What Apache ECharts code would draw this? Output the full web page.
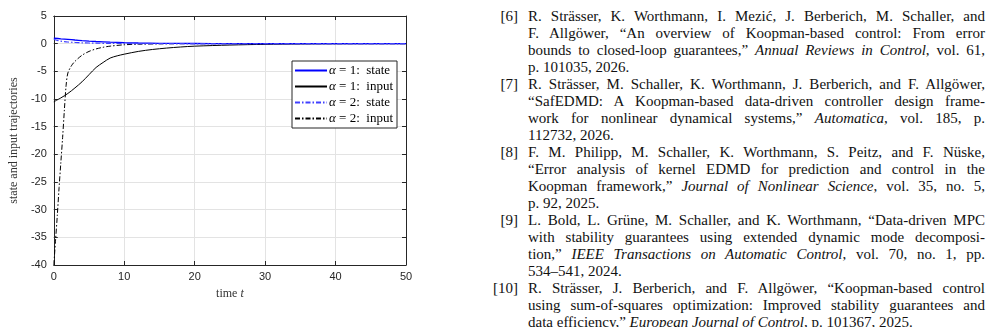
<!DOCTYPE html>
<html>
<head>
<meta charset="utf-8">
<script src="https://cdn.jsdelivr.net/npm/echarts@6/dist/echarts.min.js"></script>
<style>
  html, body { margin: 0; padding: 0; background: #fff; }
  #wrap { position: relative; width: 988px; height: 327px; overflow: hidden; }
  #chart { position: absolute; left: 0; top: 0; width: 440px; height: 327px; }
  #refs { position: absolute; left: 490px; top: 7.5px; width: 495px;
    font-family: "Liberation Serif", "Times New Roman", serif; font-size: 15px; color: #111; }
  .ref { position: relative; }
  .num { position: absolute; left: 0; top: 0; width: 28px; text-align: right; line-height: 17px; }
  .ln { margin-left: 38px; width: 457px; height: 17px; line-height: 17px; white-space: nowrap;
    text-align: justify; text-align-last: justify; }
  .ln.last { text-align-last: left; }
</style>
</head>
<body>
<div id="wrap">
  <div id="chart"></div>
  <div id="refs"></div>
</div>
<script>
// time samples and trajectories
var tState1 = [0, 1, 2, 3, 4, 5, 6, 8, 10, 12, 15, 20, 25, 30, 40, 50]
var state1 = [1.0, 0.88, 0.77, 0.66, 0.56, 0.47, 0.39, 0.27, 0.18, 0.12, 0.07, 0.03, 0.01, 0.005, 0, 0]

var tInput1 = [0, 1, 2, 3, 4, 5, 6, 7, 8, 9, 10, 12, 14, 16, 18, 20, 25, 30, 35, 40, 50]
var input1 = [-10.5, -9.8, -9.0, -8.0, -6.9, -5.6, -4.3, -3.4, -2.6, -2.2, -1.9, -1.4, -1.05, -0.8, -0.6, -0.45, -0.25, -0.12, -0.05, -0.02, 0]

var tState2 = [0, 0.5, 1, 1.5, 2, 3, 4, 5, 6, 8, 10, 15, 20, 50]
var state2 = [0.8, 0.6, 0.45, 0.36, 0.3, 0.22, 0.16, 0.12, 0.09, 0.05, 0.03, 0.01, 0, 0]

var tInput2 = [0, 0.25, 0.5, 0.75, 1, 1.25, 1.5, 1.75, 2, 2.5, 3, 4, 5, 6, 7, 8, 10, 12, 15, 20, 50]
var input2 = [-40, -35.5, -31, -26, -21.5, -17, -12, -7.5, -5.3, -4.0, -3.2, -2.1, -1.4, -0.95, -0.65, -0.45, -0.2, -0.1, -0.03, 0, 0]

var seriesNames = ['α = 1:  state', 'α = 1:  input', 'α = 2:  state', 'α = 2:  input']

var refNumbers = ['[6]', '[7]', '[8]', '[9]', '[10]']
var refLines = [
  ['R. Strässer, K. Worthmann, I. Mezić, J. Berberich, M. Schaller, and',
    'F. Allgöwer, “An overview of Koopman-based control: From error',
    'bounds to closed-loop guarantees,” <i>Annual Reviews in Control</i>, vol. 61,',
    'p. 101035, 2026.'],
  ['R. Strässer, M. Schaller, K. Worthmann, J. Berberich, and F. Allgöwer,',
    '“SafEDMD: A Koopman-based data-driven controller design frame-',
    'work for nonlinear dynamical systems,” <i>Automatica</i>, vol. 185, p.',
    '112732, 2026.'],
  ['F. M. Philipp, M. Schaller, K. Worthmann, S. Peitz, and F. Nüske,',
    '“Error analysis of kernel EDMD for prediction and control in the',
    'Koopman framework,” <i>Journal of Nonlinear Science</i>, vol. 35, no. 5,',
    'p. 92, 2025.'],
  ['L. Bold, L. Grüne, M. Schaller, and K. Worthmann, “Data-driven MPC',
    'with stability guarantees using extended dynamic mode decomposi-',
    'tion,” <i>IEEE Transactions on Automatic Control</i>, vol. 70, no. 1, pp.',
    '534–541, 2024.'],
  ['R. Strässer, J. Berberich, and F. Allgöwer, “Koopman-based control',
    'using sum-of-squares optimization: Improved stability guarantees and',
    'data efficiency,” <i>European Journal of Control</i>, p. 101367, 2025.']
]

// reference list on the right
var html = ''
for (var i = 0; i < refNumbers.length; i++) {
  html += '<div class="ref"><span class="num">' + refNumbers[i] + '</span>'
  for (var j = 0; j < refLines[i].length; j++) {
    var cls = j === refLines[i].length - 1 ? 'ln last' : 'ln'
    html += '<div class="' + cls + '">' + refLines[i][j] + '</div>'
  }
  html += '</div>'
}
document.getElementById('refs').innerHTML = html

function pairs(ts, vs) {
  return ts.map(function (t, k) { return [t, vs[k]] })
}

var dashDot = [5, 2, 1.5, 2]
var tickFont = { fontFamily: 'Liberation Sans, Arial, sans-serif', fontSize: 11, color: '#262626' }
var serif = 'Liberation Serif, Times New Roman, serif'

var chart = echarts.init(document.getElementById('chart'))
chart.setOption({
  animation: false,
  grid: { left: 45, right: 34, top: 16, bottom: 62 },
  legend: {
    right: 43, top: 61,
    orient: 'vertical',
    backgroundColor: '#fff',
    borderColor: '#262626', borderWidth: 1, borderRadius: 0,
    padding: [3, 4, 3, 2],
    itemGap: 3,
    itemWidth: 32, itemHeight: 12,
    itemStyle: { opacity: 0 },
    textStyle: {
      fontFamily: serif, fontSize: 13, color: '#000', padding: [0, 0, 0, -3],
      rich: { i: { fontFamily: serif, fontSize: 13, fontStyle: 'italic' } }
    },
    formatter: function (name) {
      return name.replace('α', '{i|α}')
    },
    data: seriesNames
  },
  xAxis: [{
    type: 'value', min: 0, max: 50, interval: 10,
    name: 'time {i|t}', nameLocation: 'middle', nameGap: 23,
    nameTextStyle: { fontFamily: serif, fontSize: 12, color: '#333',
      rich: { i: { fontFamily: serif, fontSize: 12, fontStyle: 'italic', color: '#333' } } },
    axisLine: { onZero: false, lineStyle: { color: '#262626', width: 1 } },
    axisTick: { inside: true, length: 4, lineStyle: { color: '#262626' } },
    axisLabel: Object.assign({ margin: 6 }, tickFont),
    splitLine: { lineStyle: { color: '#e3e3e3', width: 1 } }
  }, {
    type: 'value', min: 0, max: 50, interval: 10, position: 'top',
    axisLine: { onZero: false, lineStyle: { color: '#262626', width: 1 } },
    axisTick: { inside: true, length: 4, lineStyle: { color: '#262626' } },
    axisLabel: { show: false },
    splitLine: { show: false }
  }],
  yAxis: [{
    type: 'value', min: -40, max: 5, interval: 5,
    name: 'state and input trajectories', nameLocation: 'middle', nameGap: 30,
    nameTextStyle: { fontFamily: serif, fontSize: 12, color: '#333' },
    axisLine: { onZero: false, lineStyle: { color: '#262626', width: 1 } },
    axisTick: { inside: true, length: 4, lineStyle: { color: '#262626' } },
    axisLabel: Object.assign({ margin: 7 }, tickFont),
    splitLine: { lineStyle: { color: '#e3e3e3', width: 1 } }
  }, {
    type: 'value', min: -40, max: 5, interval: 5, position: 'right',
    axisLine: { onZero: false, lineStyle: { color: '#262626', width: 1 } },
    axisTick: { inside: true, length: 4, lineStyle: { color: '#262626' } },
    axisLabel: { show: false },
    splitLine: { show: false }
  }],
  series: [{
    name: seriesNames[0], type: 'line', showSymbol: false, symbol: 'none',
    smooth: 0.3, z: 4,
    lineStyle: { color: '#0000ff', width: 1.3 }, itemStyle: { color: '#0000ff' },
    data: pairs(tState1, state1)
  }, {
    name: seriesNames[1], type: 'line', showSymbol: false, symbol: 'none',
    smooth: 0.3, z: 3,
    lineStyle: { color: '#000', width: 1 }, itemStyle: { color: '#000' },
    data: pairs(tInput1, input1)
  }, {
    name: seriesNames[2], type: 'line', showSymbol: false, symbol: 'none',
    smooth: 0.3, z: 5,
    lineStyle: { color: '#4040ff', width: 1.2, type: dashDot }, itemStyle: { color: '#4040ff' },
    data: pairs(tState2, state2)
  }, {
    name: seriesNames[3], type: 'line', showSymbol: false, symbol: 'none',
    smooth: 0.3, z: 3,
    lineStyle: { color: '#000', width: 1, type: dashDot }, itemStyle: { color: '#000' },
    data: pairs(tInput2, input2)
  }]
})
</script>
</body>
</html>
